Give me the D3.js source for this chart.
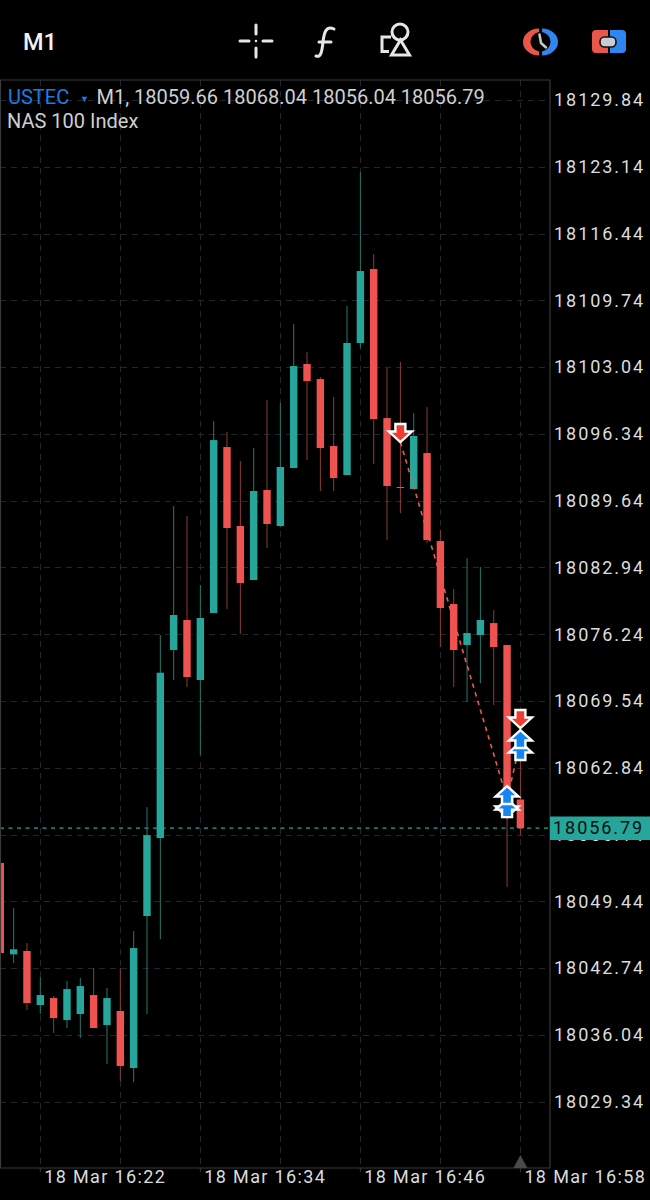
<!DOCTYPE html>
<html><head><meta charset="utf-8">
<script src="https://cdn.jsdelivr.net/npm/d3@7/dist/d3.min.js"></script>
<style>html,body{margin:0;padding:0;background:#000;width:650px;height:1200px;overflow:hidden}svg{display:block}</style>
</head><body><div id="chart"></div>
<script>
// Candle values, oldest first. Candle n is the minute 16:19 + n.
const opens  = [18053.29,18044.12,18044.46,18039.04,18039.74,18037.53,18038.14,18040.04,18037.03,18038.44,18032.72,18047.97,18055.79,18074.66,18077.67,18071.65,18078.37,18095.02,18087.10,18081.68,18090.71,18087.10,18092.92,18103.35,18101.84,18095.12,18092.21,18105.46,18112.88,18097.93,18091.01,18090.81,18094.42,18085.59,18079.27,18075.16,18076.16,18077.36,18075.16,18059.66];
const highs  = [18053.29,18048.77,18045.26,18041.85,18039.94,18041.45,18041.75,18042.75,18040.74,18042.75,18046.46,18058.90,18076.16,18089.10,18088.10,18081.18,18097.63,18096.53,18093.62,18094.92,18099.74,18099.44,18107.36,18104.55,18102.05,18100.04,18109.17,18122.61,18114.39,18102.95,18103.55,18098.43,18099.04,18086.70,18080.78,18083.89,18082.98,18078.67,18075.16,18068.04];
const lows   = [18044.26,18043.25,18038.54,18038.14,18036.23,18036.73,18035.73,18036.73,18033.12,18031.41,18031.31,18038.14,18045.66,18071.65,18070.94,18064.12,18078.37,18078.77,18076.26,18081.68,18084.89,18087.00,18092.92,18093.72,18090.61,18090.61,18092.21,18104.96,18093.32,18085.69,18088.40,18090.81,18085.39,18074.96,18070.94,18069.44,18071.34,18069.14,18050.88,18056.04];
const closes = [18044.26,18044.63,18039.24,18040.04,18037.73,18040.64,18040.94,18036.73,18039.74,18032.92,18044.76,18056.09,18072.38,18078.17,18071.95,18077.87,18095.72,18086.90,18081.38,18090.61,18087.30,18093.02,18103.15,18101.64,18094.92,18091.91,18105.46,18112.68,18097.83,18091.11,18090.91,18096.13,18085.69,18078.87,18074.66,18076.36,18077.67,18074.96,18059.66,18056.79];

const priceTicks = [18129.84,18123.14,18116.44,18109.74,18103.04,18096.34,18089.64,18082.94,18076.24,18069.54,18062.84,18056.14,18049.44,18042.74,18036.04,18029.34];
const timeGrid = [3,9,15,21,27,33,39];
const timeTicks = [3,15,27,39];
const timeLabels = ["18 Mar 16:22","18 Mar 16:34","18 Mar 16:46","18 Mar 16:58"];
const lastPrice = 18056.79;

// Trade markers: candle, price, direction
const markerCandle = [30,38,38,38,39,39,39];
const markerPrice  = [18095.52,18057.90,18059.70,18061.01,18066.83,18065.43,18066.63];
const markerDir    = ["down","down","up","up","down","up","up"];
// Trade connector lines
const tradeFrom = [[30,18095.52],[38,18059.70]];
const tradeTo   = [[38,18059.70],[39,18065.43]];

const legendSymbol = "USTEC";
const legendArrow = "▼";
const legendValues = "M1, 18059.66 18068.04 18056.04 18056.79";
const legendName = "NAS 100 Index";
const timeframe = "M1";

const UP="#26a69a", DOWN="#ef5350", UPW="#27776f", DOWNW="#8d3b38", GRID="#25262b", FRAME="#3a3a3a", LABEL="#dcdcdc";
const FONT="Roboto, 'Liberation Sans', sans-serif";

const W=650,H=1200,R=550,T=80,B=1168;
const svg=d3.select("#chart").append("svg").attr("width",W).attr("height",H).attr("font-family",FONT);
svg.append("rect").attr("width",W).attr("height",H).attr("fill","#000");

const y=d3.scaleLinear().domain([priceTicks[0],priceTicks[priceTicks.length-1]]).range([100,1101.7]);
const x=d3.scaleLinear().domain([0,39]).range([0.3,520.4]);

// grid
const grid=svg.append("g").attr("fill","none").attr("stroke",GRID).attr("stroke-dasharray","6,5");
grid.selectAll("line.h").data(priceTicks).join("line").attr("class","h")
  .attr("x1",0).attr("x2",R).attr("y1",d=>Math.round(y(d))+.5).attr("y2",d=>Math.round(y(d))+.5);
grid.selectAll("line.v").data(timeGrid).join("line").attr("class","v")
  .attr("x1",d=>Math.round(x(d))+.5).attr("x2",d=>Math.round(x(d))+.5).attr("y1",T).attr("y2",B);

// bid line
svg.append("line").attr("x1",0).attr("x2",R).attr("y1",y(lastPrice)).attr("y2",y(lastPrice))
  .attr("stroke",UP).attr("stroke-width",1.4).attr("stroke-dasharray","4,4.5");

// candles
const candles=d3.range(opens.length).map(i=>({i,o:opens[i],h:highs[i],l:lows[i],c:closes[i],up:closes[i]>=opens[i]}));
const cg=svg.append("g");
cg.selectAll("line").data(candles).join("line")
  .attr("x1",d=>x(d.i)).attr("x2",d=>x(d.i)).attr("y1",d=>y(d.h)).attr("y2",d=>y(d.l))
  .attr("stroke",d=>d.up?UPW:DOWNW).attr("stroke-width",1);
cg.selectAll("rect").data(candles).join("rect")
  .attr("x",d=>x(d.i)-3.7).attr("width",7.4)
  .attr("y",d=>y(Math.max(d.o,d.c)))
  .attr("height",d=>Math.max(1,Math.abs(y(d.o)-y(d.c))))
  .attr("fill",d=>d.up?UP:DOWN);

// trade lines
svg.append("g").selectAll("line").data(tradeFrom).join("line")
  .attr("x1",d=>x(d[0])).attr("y1",d=>y(d[1]))
  .attr("x2",(d,i)=>x(tradeTo[i][0])).attr("y2",(d,i)=>y(tradeTo[i][1]))
  .attr("stroke","#f4574a").attr("stroke-width",1.6).attr("stroke-dasharray","4.5,4.5");

// markers
const arrow=(d)=>{
  const s=d.dir==="down"?-1:1, p=d3.path();
  const pts=[[0,0],[11.5,10.5],[5,10.5],[5,18],[-5,18],[-5,10.5],[-11.5,10.5]];
  pts.forEach((q,k)=>k?p.lineTo(q[0],s*q[1]):p.moveTo(q[0],s*q[1]));
  p.closePath(); return p.toString();
};
svg.append("g").selectAll("path").data(markerCandle.map((c,i)=>({c,p:markerPrice[i],dir:markerDir[i]}))).join("path")
  .attr("transform",d=>`translate(${x(d.c)},${y(d.p)})`)
  .attr("d",arrow).attr("fill",d=>d.dir==="down"?"#ee3d30":"#1585f5")
  .attr("stroke","#fff").attr("stroke-width",2.4).attr("stroke-linejoin","miter");

// frame
const frame=svg.append("g").attr("fill","none").attr("stroke",FRAME);
frame.append("path").attr("d",`M0.5,${T}H${R}V${B}H0.5Z`).attr("stroke-width",1.2);
svg.append("g").selectAll("line").data(timeTicks).join("line")
  .attr("x1",d=>x(d)).attr("x2",d=>x(d)).attr("y1",B).attr("y2",B+4).attr("stroke",FRAME);

// price axis
const yAxis=d3.axisRight(y).tickValues(priceTicks).tickFormat(d3.format(".2f")).tickSize(0).tickPadding(0);
const ya=svg.append("g").attr("transform","translate(554,0)").call(yAxis);
ya.select(".domain").remove();
ya.selectAll("text").attr("fill",LABEL).attr("font-family",FONT).attr("font-size",18).attr("letter-spacing",1.95);

// last price tag
svg.append("rect").attr("x",R).attr("width",100).attr("y",816.5).attr("height",23.5).attr("fill",UP);
svg.append("text").attr("x",553).attr("y",y(lastPrice)).attr("dy","0.34em").attr("fill","#06100f")
  .attr("font-size",18).attr("letter-spacing",1.95).text(d3.format(".2f")(lastPrice));

// time axis
const xAxis=d3.axisBottom(x).tickValues(timeTicks).tickFormat((d,i)=>timeLabels[i]).tickSize(0).tickPadding(0);
const xa=svg.append("g").attr("transform",`translate(0,1170)`).call(xAxis);
xa.select(".domain").remove();
xa.selectAll("text").attr("fill",LABEL).attr("font-family",FONT).attr("font-size",18).attr("letter-spacing",1.35)
  .attr("text-anchor","start").attr("dx",3.5);
svg.append("path").attr("transform",`translate(${x(39)},${B})`).attr("d","M0,-13L7,0H-7Z").attr("fill","#4a4a4a");

// legend
svg.append("text").attr("x",8).attr("y",104).attr("font-size",20).attr("fill","#1a7ee6").text(legendSymbol);
svg.append("text").attr("x",80).attr("y",102).attr("font-size",9).attr("fill","#1a7ee6").text(legendArrow);
svg.append("text").attr("x",96.5).attr("y",104).attr("font-size",20).attr("fill","#cfcfcf").text(legendValues);
svg.append("text").attr("x",7).attr("y",128).attr("font-size",20).attr("fill","#cfcfcf").text(legendName);

// toolbar
svg.append("text").attr("x",23).attr("y",50).attr("font-size",23.5).attr("font-weight",500).attr("fill","#f2f2f2").text(timeframe);
const ICON="#e6e6e6";
const tb=svg.append("g").attr("fill","none").attr("stroke",ICON).attr("stroke-linecap","round");
tb.append("path").attr("stroke-width",3).attr("d","M240,41H249M263,41H272M256,25V34M256,48V57");
tb.append("circle").attr("cx",256).attr("cy",41).attr("r",1.3).attr("fill",ICON).attr("stroke","none");
tb.append("path").attr("stroke-width",3).attr("d","M334,29C326,25 324,33 323,42C322,51 321,58 316,56M319,42H331");
tb.append("circle").attr("cx",400).attr("cy",32).attr("r",8).attr("stroke-width",3);
tb.append("path").attr("stroke-width",3).attr("stroke-linejoin","miter").attr("stroke-linecap","butt").attr("d","M400.5,40L409.5,55H391.5Z");
tb.append("path").attr("stroke-width",3).attr("stroke-linecap","butt").attr("d","M391,37H382V51.5H389");

// account icons
svg.append("path").attr("fill","#e8574a").attr("d","M539,28.5A16,13.5 0 0,0 539,55.5V51.5A11,10 0 0,1 539,32Z");
svg.append("path").attr("fill","#2f86f0").attr("d","M542,28.5A16,13.5 0 0,1 542,55.5V51.5A11,10 0 0,0 542,32Z");
svg.append("path").attr("fill","none").attr("stroke","#c8c8c8").attr("stroke-width",2.5).attr("stroke-linecap","round").attr("d","M539.5,34.5L541,43L546,47.5");
svg.append("path").attr("fill","#e8574a").attr("d","M608,30H596Q592,30 592,34V49Q592,53 596,53H608Z");
svg.append("path").attr("fill","#2f86f0").attr("d","M610,30H622Q626,30 626,34V49Q626,53 622,53H610Z");
svg.append("rect").attr("x",600).attr("y",37).attr("width",16).attr("height",10).attr("rx",4.5).attr("fill","#c9cdd2").attr("stroke","#111").attr("stroke-width",1.6);
</script></body></html>
